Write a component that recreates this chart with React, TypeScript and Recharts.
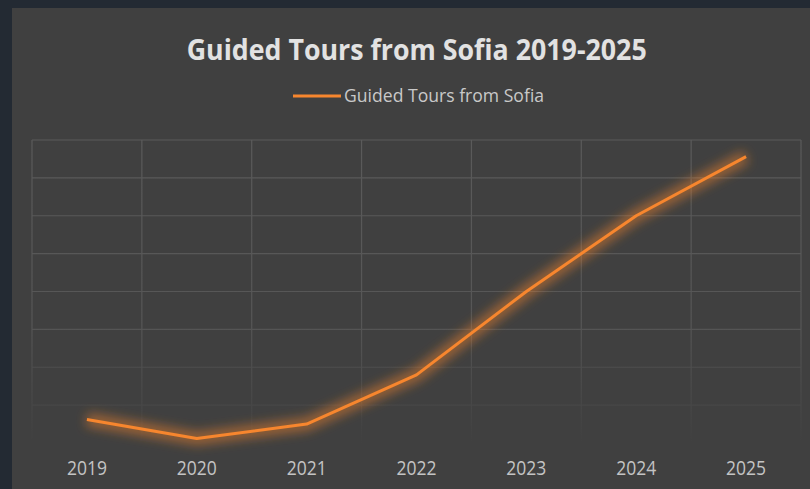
import React from 'react';
import { LineChart, Line, XAxis, YAxis, CartesianGrid, Legend } from 'recharts';

const years = ['2019', '2020', '2021', '2022', '2023', '2024', '2025'];
const tours = [310, 60, 250, 900, 2000, 3000, 3780];
const yTicks = [0, 500, 1000, 1500, 2000, 2500, 3000, 3500, 4000];
const seriesName = 'Guided Tours from Sofia';
const chartTitle = 'Guided Tours from Sofia 2019-2025';

const data = years.map((year, i) => ({ year, tours: tours[i] }));

const ORANGE = '#F7862E';
const W = 798;
const H = 481;

const Tick = (props: any) => {
  const { x, y, payload } = props;
  return (
    <text
      x={x}
      y={y + 32}
      textAnchor="middle"
      fill="#c4c4c4"
      fontSize={20}
      fontFamily="'Open Sans', sans-serif"
      textLength={40}
      lengthAdjust="spacingAndGlyphs"
    >
      {payload.value}
    </text>
  );
};

const LegendContent = () => (
  <svg width={W} height={30} style={{ display: 'block' }}>
    <line x1={281} x2={329} y1={16} y2={16} stroke={ORANGE} strokeWidth={3} />
    <text
      x={332}
      y={22}
      fill="#c9c9c9"
      fontSize={19}
      fontFamily="'Open Sans', sans-serif"
      textLength={200}
      lengthAdjust="spacingAndGlyphs"
    >
      {seriesName}
    </text>
  </svg>
);

export default function App() {
  return (
    <div style={{ position: 'absolute', left: 0, top: 0, width: 810, height: 489, background: '#232a33', overflow: 'hidden' }}>
      <style>{`.glow-line path { filter: url(#glowBlur); }`}</style>
      <div style={{ position: 'absolute', left: 12, top: 8, width: W, height: H, background: '#404040' }}>
        <svg width={W} height={H} style={{ position: 'absolute', left: 0, top: 0 }}>
          <defs>
            <filter id="glowBlur" filterUnits="userSpaceOnUse" x={-50} y={-50} width={900} height={600}>
              <feGaussianBlur stdDeviation={5.5} />
            </filter>
            <linearGradient id="gridFade" gradientUnits="userSpaceOnUse" x1={0} y1={132} x2={0} y2={435}>
              <stop offset="0" stopColor="#5a5a5a" />
              <stop offset="0.6" stopColor="#565656" />
              <stop offset="1" stopColor="#404040" />
            </linearGradient>
          </defs>
          <text
            x={174.7}
            y={52}
            fill="#e2e2e2"
            fontSize={29}
            fontWeight="bold"
            fontFamily="'Open Sans', sans-serif"
            textLength={460}
            lengthAdjust="spacingAndGlyphs"
          >
            {chartTitle}
          </text>
        </svg>
        <div style={{ position: 'absolute', left: 0, top: 0 }}>
          <LineChart width={W} height={H} data={data} margin={{ top: 132, right: 9, bottom: 0, left: 20 }}>
            <CartesianGrid
              stroke="url(#gridFade)"
              strokeWidth={1.2}
              verticalCoordinatesGenerator={({ offset }: any) =>
                Array.from({ length: years.length + 1 }, (_, i) => offset.left + (i * offset.width) / years.length)
              }
            />
            <XAxis
              dataKey="year"
              height={46}
              axisLine={false}
              tickLine={false}
              tickSize={0}
              tickMargin={0}
              interval={0}
              padding={{ left: 54.93, right: 54.93 }}
              tick={<Tick />}
            />
            <YAxis hide domain={[0, 4000]} ticks={yTicks} />
            <Legend
              verticalAlign="middle"
              align="center"
              layout="horizontal"
              content={<LegendContent />}
              wrapperStyle={{ top: 72, left: 0, width: W, height: 30 }}
            />
            <Line
              className="glow-line"
              dataKey="tours"
              stroke={ORANGE}
              strokeWidth={13}
              strokeOpacity={0.5}
              dot={false}
              activeDot={false}
              legendType="none"
              isAnimationActive={false}
            />
            <Line
              dataKey="tours"
              name={seriesName}
              stroke={ORANGE}
              strokeWidth={3}
              strokeLinejoin="round"
              dot={false}
              activeDot={false}
              isAnimationActive={false}
            />
          </LineChart>
        </div>
      </div>
    </div>
  );
}
